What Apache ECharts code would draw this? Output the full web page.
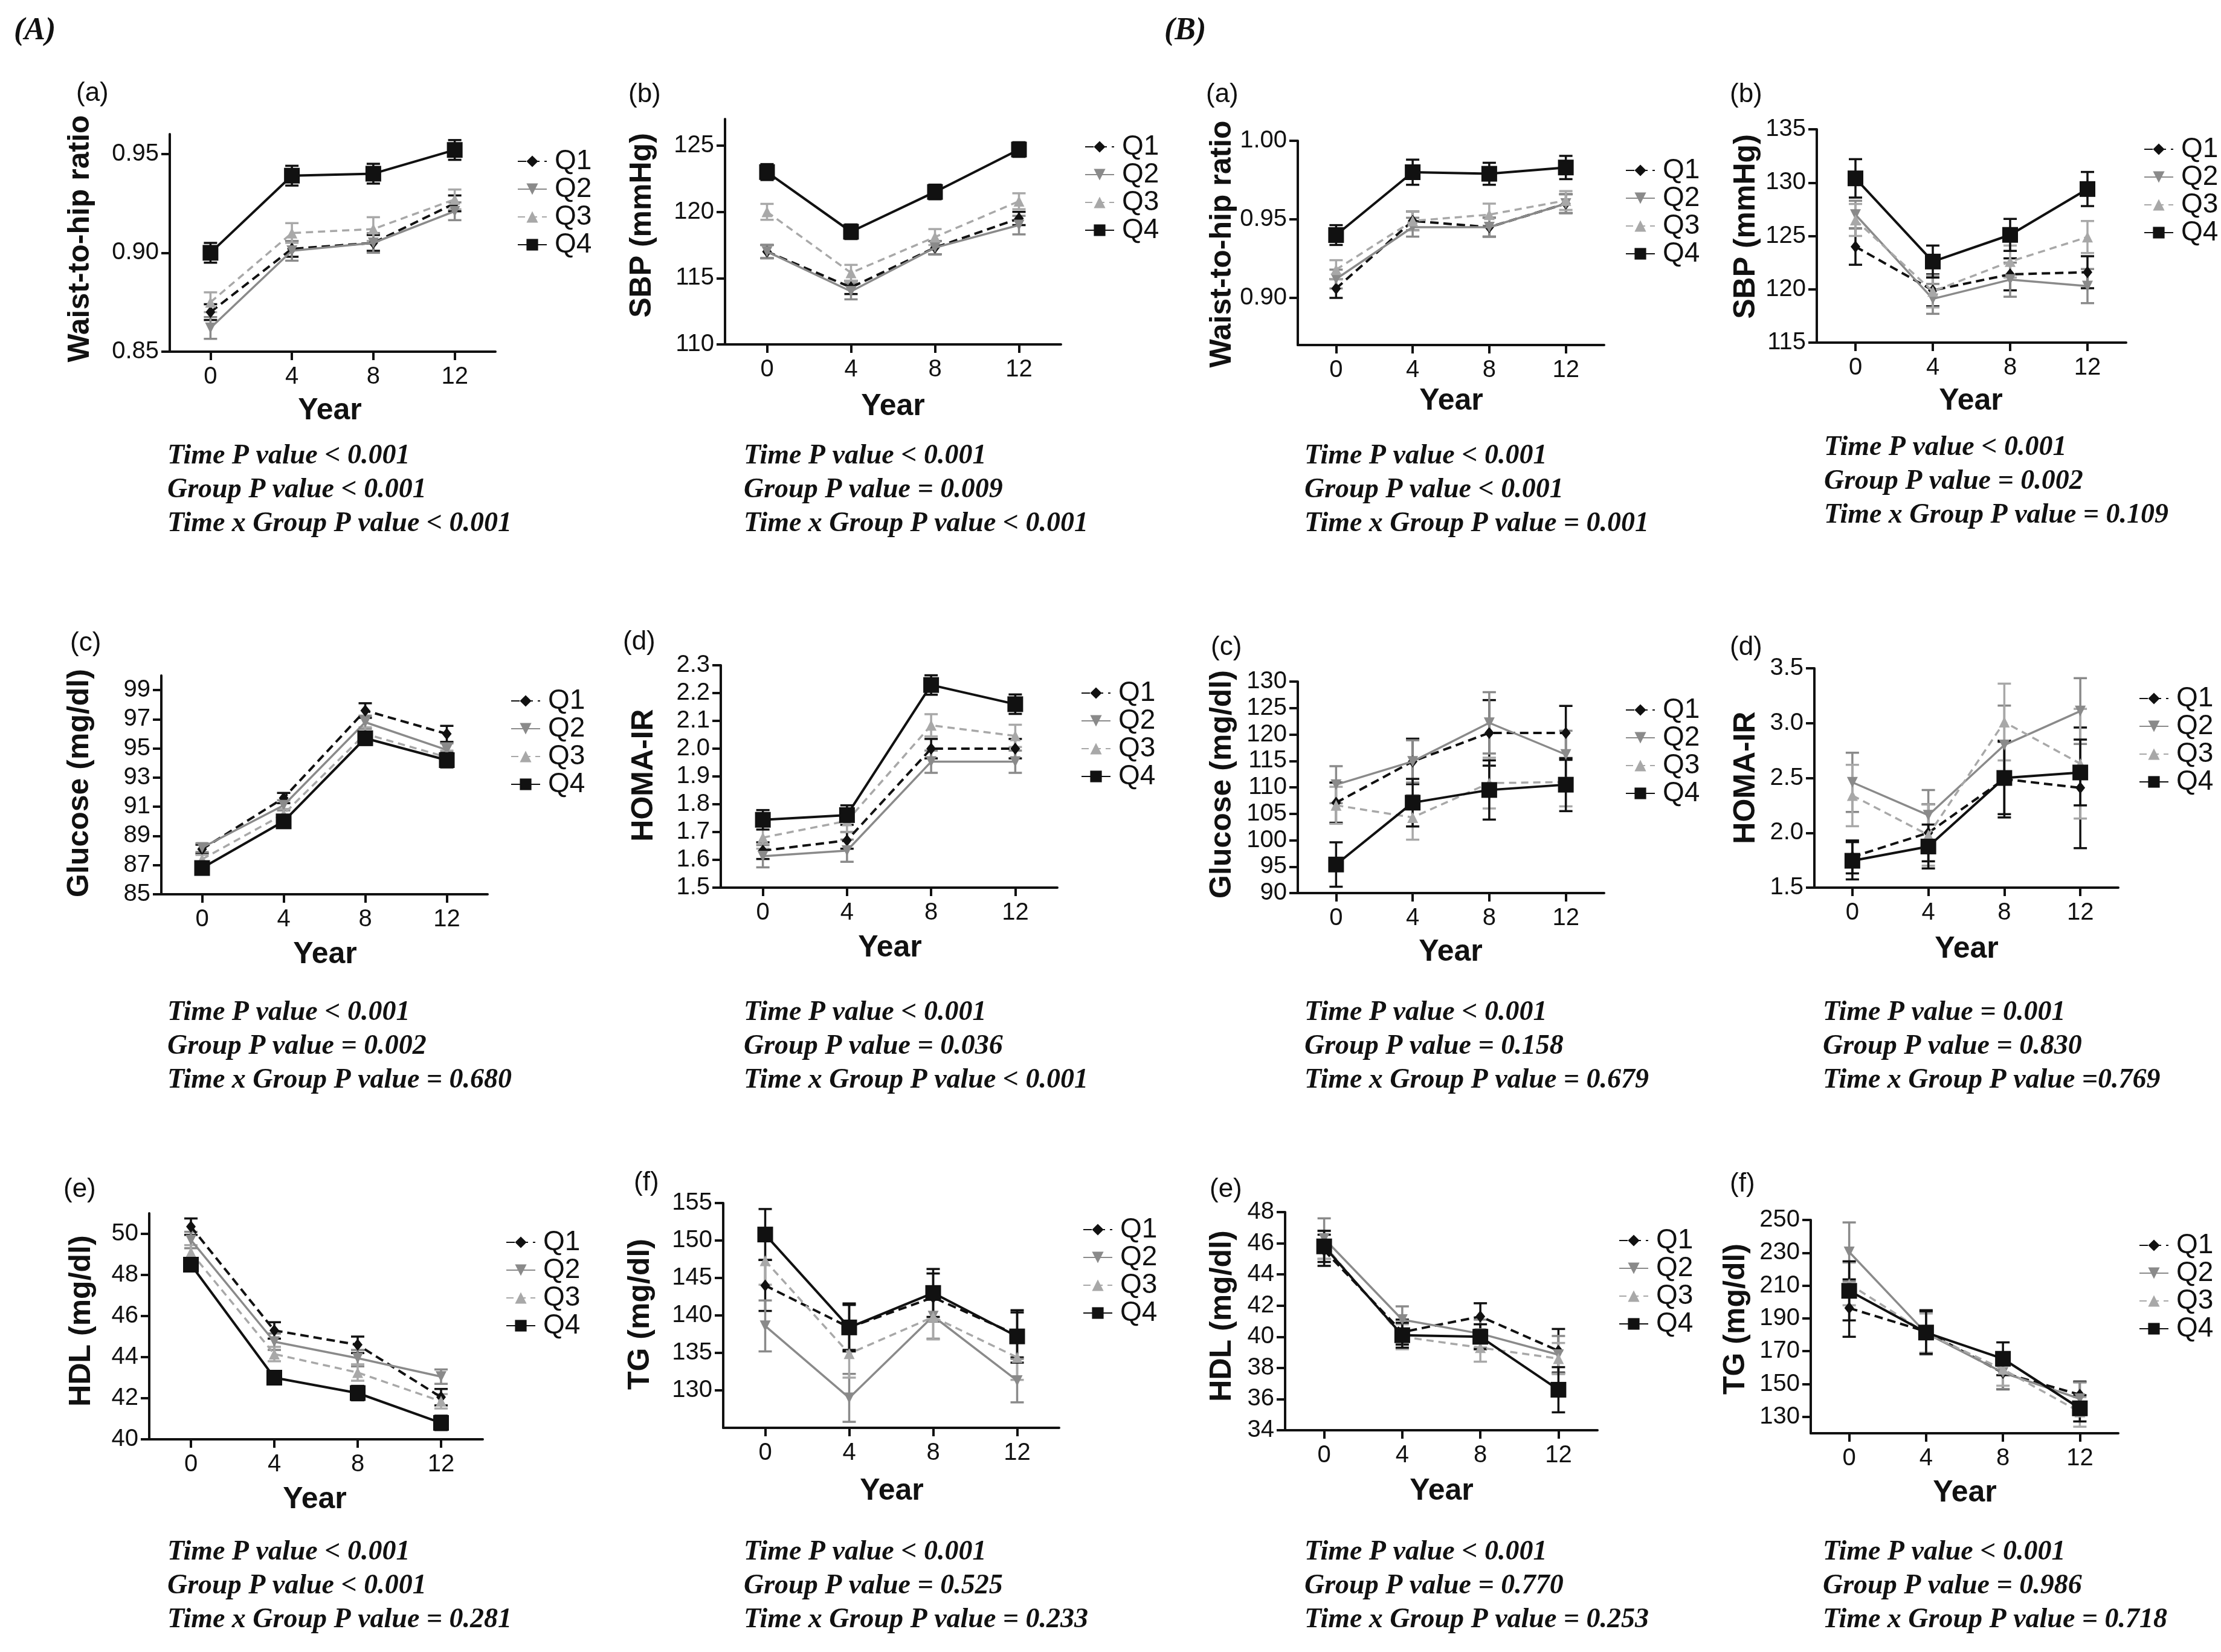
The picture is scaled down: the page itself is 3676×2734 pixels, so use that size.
<!DOCTYPE html>
<html><head><meta charset="utf-8">
<script src="https://cdn.jsdelivr.net/npm/echarts@6/dist/echarts.min.js"></script>
<style>html,body{margin:0;padding:0;background:#fff}#c{width:3676px;height:2734px}</style>
</head><body><div id="c"></div>
<script>
// ---------- shared ----------
const years = [0, 4, 8, 12];
const groups = ['Q1', 'Q2', 'Q3', 'Q4'];
const yearTicks = [0, 4, 8, 12];

// ---------- (A)(a) Waist-to-hip ratio ----------
const A_whr_mean = [[0.870, 0.902, 0.905, 0.925], [0.862, 0.901, 0.905, 0.921], [0.875, 0.910, 0.912, 0.927], [0.900, 0.939, 0.940, 0.952]];
const A_whr_err  = [[0.004, 0.004, 0.004, 0.004], [0.0055, 0.005, 0.005, 0.0045], [0.005, 0.005, 0.006, 0.005], [0.005, 0.005, 0.005, 0.005]];
const A_whr_ticks = [0.85, 0.90, 0.95];
const A_whr_range = [0.85, 0.96];
const A_whr_p = ['Time P value < 0.001', 'Group P value < 0.001', 'Time x Group P value < 0.001'];

// ---------- (A)(b) SBP ----------
const A_sbp_mean = [[117.0, 114.3, 117.3, 119.5], [117.0, 114.0, 117.3, 119.0], [120.0, 115.4, 118.1, 120.8], [123.0, 118.5, 121.5, 124.7]];
const A_sbp_err  = [[0.5, 0.5, 0.5, 0.5], [0.5, 0.6, 0.5, 0.7], [0.6, 0.6, 0.6, 0.6], [0.6, 0.55, 0.55, 0.55]];
const A_sbp_ticks = [110, 115, 120, 125];
const A_sbp_range = [110, 127];
const A_sbp_p = ['Time P value < 0.001', 'Group P value = 0.009', 'Time x Group P value < 0.001'];

// ---------- (B)(a) Waist-to-hip ratio ----------
const B_whr_mean = [[0.906, 0.949, 0.945, 0.960], [0.912, 0.945, 0.945, 0.960], [0.918, 0.949, 0.953, 0.962], [0.940, 0.980, 0.979, 0.983]];
const B_whr_err  = [[0.006, 0.006, 0.006, 0.006], [0.006, 0.006, 0.006, 0.006], [0.006, 0.006, 0.007, 0.006], [0.0063, 0.008, 0.007, 0.0074]];
const B_whr_ticks = [0.90, 0.95, 1.00];
const B_whr_range = [0.87, 1.00];
const B_whr_p = ['Time P value < 0.001', 'Group P value < 0.001', 'Time x Group P value = 0.001'];

// ---------- (B)(b) SBP ----------
const B_sbp_mean = [[124.0, 119.9, 121.4, 121.6], [127.0, 119.1, 120.9, 120.3], [126.5, 119.8, 122.6, 124.9], [130.4, 122.6, 125.1, 129.4]];
const B_sbp_err  = [[1.7, 1.5, 1.5, 1.5], [1.3, 1.4, 1.6, 1.6], [1.5, 1.5, 1.5, 1.5], [1.8, 1.5, 1.5, 1.6]];
const B_sbp_ticks = [115, 120, 125, 130, 135];
const B_sbp_range = [115, 135];
const B_sbp_p = ['Time P value < 0.001', 'Group P value = 0.002', 'Time x Group P value = 0.109'];

// ---------- (A)(c) Glucose ----------
const A_glu_mean = [[88.1, 91.6, 97.6, 96.0], [88.2, 91.1, 96.8, 94.9], [87.4, 90.5, 96.0, 94.4], [86.8, 90.0, 95.7, 94.2]];
const A_glu_err  = [[0.3, 0.35, 0.5, 0.55], [0.3, 0.35, 0.45, 0.45], [0.3, 0.35, 0.45, 0.45], [0.3, 0.35, 0.45, 0.5]];
const A_glu_ticks = [85, 87, 89, 91, 93, 95, 97, 99];
const A_glu_range = [85, 100];
const A_glu_p = ['Time P value < 0.001', 'Group P value = 0.002', 'Time x Group P value = 0.680'];

// ---------- (A)(d) HOMA-IR ----------
const A_homa_mean = [[1.633, 1.670, 2.000, 2.000], [1.613, 1.633, 1.953, 1.953], [1.680, 1.740, 2.084, 2.046], [1.744, 1.761, 2.229, 2.160]];
const A_homa_err  = [[0.03, 0.03, 0.035, 0.035], [0.04, 0.04, 0.04, 0.04], [0.04, 0.04, 0.04, 0.04], [0.035, 0.035, 0.035, 0.035]];
const A_homa_ticks = [1.5, 1.6, 1.7, 1.8, 1.9, 2.0, 2.1, 2.2, 2.3];
const A_homa_range = [1.5, 2.3];
const A_homa_p = ['Time P value < 0.001', 'Group P value = 0.036', 'Time x Group P value < 0.001'];

// ---------- (B)(c) Glucose ----------
const B_glu_mean = [[107.1, 114.9, 120.3, 120.3], [110.5, 114.9, 122.2, 116.2], [106.6, 104.3, 110.8, 111.0], [95.4, 107.1, 109.5, 110.5]];
const B_glu_err  = [[3.8, 4.3, 6.2, 5.1], [3.5, 4.0, 5.8, 4.5], [3.5, 4.2, 4.8, 4.6], [4.2, 4.5, 5.6, 5.0]];
const B_glu_ticks = [90, 95, 100, 105, 110, 115, 120, 125, 130];
const B_glu_range = [90, 130];
const B_glu_p = ['Time P value < 0.001', 'Group P value = 0.158', 'Time x Group P value = 0.679'];

// ---------- (B)(d) HOMA-IR ----------
const B_homa_mean = [[1.78, 2.00, 2.49, 2.41], [2.46, 2.16, 2.80, 3.11], [2.34, 1.98, 3.01, 2.63], [1.745, 1.875, 2.50, 2.55]];
const B_homa_err  = [[0.15, 0.26, 0.35, 0.55], [0.27, 0.23, 0.36, 0.30], [0.28, 0.28, 0.35, 0.50], [0.17, 0.20, 0.33, 0.30]];
const B_homa_ticks = [1.5, 2.0, 2.5, 3.0, 3.5];
const B_homa_range = [1.5, 3.5];
const B_homa_p = ['Time P value = 0.001', 'Group P value = 0.830', 'Time x Group P value =0.769'];

// ---------- (A)(e) HDL ----------
const A_hdl_mean = [[50.35, 45.3, 44.6, 42.05], [49.7, 44.75, 43.95, 43.05], [49.1, 44.15, 43.25, 41.85], [48.5, 43.0, 42.25, 40.8]];
const A_hdl_err  = [[0.4, 0.4, 0.4, 0.4], [0.4, 0.4, 0.4, 0.35], [0.35, 0.35, 0.4, 0.35], [0.3, 0.3, 0.35, 0.35]];
const A_hdl_ticks = [40, 42, 44, 46, 48, 50];
const A_hdl_range = [40, 51];
const A_hdl_p = ['Time P value < 0.001', 'Group P value < 0.001', 'Time x Group P value = 0.281'];

// ---------- (A)(f) TG ----------
const A_tg_mean = [[144.0, 138.4, 142.4, 137.4], [138.6, 129.0, 139.9, 131.3], [147.3, 134.9, 139.8, 134.4], [150.8, 138.4, 143.0, 137.2]];
const A_tg_err  = [[3.4, 3.0, 3.2, 3.0], [3.4, 3.2, 3.0, 2.9], [3.2, 3.2, 3.0, 3.0], [3.4, 3.2, 3.2, 3.5]];
const A_tg_ticks = [130, 135, 140, 145, 150, 155];
const A_tg_range = [125, 155];
const A_tg_p = ['Time P value < 0.001', 'Group P value = 0.525', 'Time x Group P value = 0.233'];

// ---------- (B)(e) HDL ----------
const B_hdl_mean = [[45.55, 40.3, 41.3, 39.1], [46.3, 41.1, 40.2, 38.85], [45.9, 40.0, 39.3, 38.6], [45.8, 40.1, 40.0, 36.6]];
const B_hdl_err  = [[1.0, 0.8, 0.85, 1.4], [1.3, 0.85, 0.9, 1.2], [0.9, 0.8, 0.9, 1.0], [1.0, 0.8, 0.8, 1.45]];
const B_hdl_ticks = [34, 36, 38, 40, 42, 44, 46, 48];
const B_hdl_range = [34, 48];
const B_hdl_p = ['Time P value < 0.001', 'Group P value = 0.770', 'Time x Group P value = 0.253'];

// ---------- (B)(f) TG ----------
const B_tg_mean = [[196.3, 182.0, 156.8, 143.5], [230.5, 181.0, 157.0, 141.0], [211.0, 181.0, 159.0, 133.0], [206.8, 181.4, 165.4, 135.2]];
const B_tg_err  = [[17.5, 13, 10, 8], [18, 13, 10, 10], [13, 12, 10, 9], [18, 13, 10, 8]];
const B_tg_ticks = [130, 150, 170, 190, 210, 230, 250];
const B_tg_range = [120, 250];
const B_tg_p = ['Time P value < 0.001', 'Group P value = 0.986', 'Time x Group P value = 0.718'];

// ---------- layout (pixels) ----------
const SANS = "'Liberation Sans', Arial, Helvetica, sans-serif";
const SERIF = "'Liberation Serif', 'Times New Roman', serif";
const panels = [
  {mean:A_whr_mean, err:A_whr_err, ticks:A_whr_ticks, range:A_whr_range, dec:2, title:'Waist-to-hip ratio', tag:'(a)', p:A_whr_p,
   grid:[281,222,539,360], leg:[856,246], tPos:[133,395], yrPos:[546,680], tagPos:[126,155], pPos:[277,755]},
  {mean:A_sbp_mean, err:A_sbp_err, ticks:A_sbp_ticks, range:A_sbp_range, dec:0, title:'SBP (mmHg)', tag:'(b)', p:A_sbp_p,
   grid:[1200,197,556,373], leg:[1795,222], tPos:[1063,373], yrPos:[1478,673], tagPos:[1040,157], pPos:[1231,755]},
  {mean:B_whr_mean, err:B_whr_err, ticks:B_whr_ticks, range:B_whr_range, dec:2, title:'Waist-to-hip ratio', tag:'(a)', p:B_whr_p,
   grid:[2148,233,507,338], leg:[2690,261], tPos:[2023,404], yrPos:[2402,664], tagPos:[1996,157], pPos:[2159,755]},
  {mean:B_sbp_mean, err:B_sbp_err, ticks:B_sbp_ticks, range:B_sbp_range, dec:0, title:'SBP (mmHg)', tag:'(b)', p:B_sbp_p,
   grid:[3007,214,512,353], leg:[3548,226], tPos:[2890,375], yrPos:[3262,664], tagPos:[2863,157], pPos:[3019,741]},

  {mean:A_glu_mean, err:A_glu_err, ticks:A_glu_ticks, range:A_glu_range, dec:0, title:'Glucose (mg/dl)', tag:'(c)', p:A_glu_p,
   grid:[267,1118,540,362], leg:[845,1139], tPos:[132,1296], yrPos:[538,1580], tagPos:[116,1065], pPos:[277,1676]},
  {mean:A_homa_mean, err:A_homa_err, ticks:A_homa_ticks, range:A_homa_range, dec:1, title:'HOMA-IR', tag:'(d)', p:A_homa_p,
   grid:[1193,1101,557,368], leg:[1789,1126], tPos:[1066,1283], yrPos:[1473,1569], tagPos:[1031,1063], pPos:[1231,1676]},
  {mean:B_glu_mean, err:B_glu_err, ticks:B_glu_ticks, range:B_glu_range, dec:0, title:'Glucose (mg/dl)', tag:'(c)', p:B_glu_p,
   grid:[2148,1128,507,350], leg:[2690,1154], tPos:[2023,1298], yrPos:[2401,1576], tagPos:[2004,1072], pPos:[2159,1676]},
  {mean:B_homa_mean, err:B_homa_err, ticks:B_homa_ticks, range:B_homa_range, dec:1, title:'HOMA-IR', tag:'(d)', p:B_homa_p,
   grid:[3003,1106,503,363], leg:[3540,1135], tPos:[2890,1287], yrPos:[3255,1571], tagPos:[2863,1072], pPos:[3017,1676]},

  {mean:A_hdl_mean, err:A_hdl_err, ticks:A_hdl_ticks, range:A_hdl_range, dec:0, title:'HDL (mg/dl)', tag:'(e)', p:A_hdl_p,
   grid:[247,2008,552,374], leg:[837,2035], tPos:[135,2186], yrPos:[521,2482], tagPos:[105,1969], pPos:[277,2569]},
  {mean:A_tg_mean, err:A_tg_err, ticks:A_tg_ticks, range:A_tg_range, dec:0, title:'TG (mg/dl)', tag:'(f)', p:A_tg_p,
   grid:[1197,1991,556,372], leg:[1792,2014], tPos:[1060,2175], yrPos:[1476,2468], tagPos:[1049,1958], pPos:[1231,2569]},
  {mean:B_hdl_mean, err:B_hdl_err, ticks:B_hdl_ticks, range:B_hdl_range, dec:0, title:'HDL (mg/dl)', tag:'(e)', p:B_hdl_p,
   grid:[2127,2006,517,361], leg:[2679,2032], tPos:[2023,2178], yrPos:[2386,2468], tagPos:[2002,1969], pPos:[2159,2569]},
  {mean:B_tg_mean, err:B_tg_err, ticks:B_tg_ticks, range:B_tg_range, dec:0, title:'TG (mg/dl)', tag:'(f)', p:B_tg_p,
   grid:[2997,2019,509,353], leg:[3540,2040], tPos:[2873,2183], yrPos:[3252,2471], tagPos:[2863,1960], pPos:[3017,2569]}
];

const styles = [
  {color:'#111111', type:[14, 8], width:4,   symbol:'diamond',  size:[16, 20], rotate:0},
  {color:'#8a8a8a', type:'solid', width:3.5, symbol:'triangle', size:18, rotate:180},
  {color:'#a8a8a8', type:[12, 8], width:3.5, symbol:'triangle', size:18, rotate:0},
  {color:'#111111', type:'solid', width:4,   symbol:'rect',     size:26, rotate:0}
];

function errRender(color) {
  return function (params, api) {
    const x = api.value(0), y = api.value(1), e = api.value(2);
    const a = api.coord([x, y + e]), b = api.coord([x, y - e]);
    const hw = 11;
    const st = {stroke: color, lineWidth: 3.5, fill: null};
    return {type: 'group', children: [
      {type: 'line', shape: {x1: a[0], y1: a[1], x2: b[0], y2: b[1]}, style: st},
      {type: 'line', shape: {x1: a[0] - hw, y1: a[1], x2: a[0] + hw, y2: a[1]}, style: st},
      {type: 'line', shape: {x1: b[0] - hw, y1: b[1], x2: b[0] + hw, y2: b[1]}, style: st}
    ]};
  };
}

const axisLineStyle = {color: '#111', width: 4};
const grids = [], xAxes = [], yAxes = [], series = [], legends = [], graphics = [];

panels.forEach((pn, i) => {
  grids.push({left: pn.grid[0], top: pn.grid[1], width: pn.grid[2], height: pn.grid[3], containLabel: false});
  xAxes.push({
    gridIndex: i, type: 'value', min: -2, max: 14,
    axisLine: {show: true, onZero: false, lineStyle: axisLineStyle},
    axisTick: {show: true, length: 14, inside: false, lineStyle: {color: '#111', width: 4}, customValues: yearTicks},
    axisLabel: {customValues: yearTicks, fontSize: 40, color: '#111', margin: 22, fontFamily: SANS},
    splitLine: {show: false}
  });
  yAxes.push({
    gridIndex: i, type: 'value', min: pn.range[0], max: pn.range[1],
    axisLine: {show: true, onZero: false, lineStyle: axisLineStyle},
    axisTick: {show: true, length: 14, lineStyle: {color: '#111', width: 4}, customValues: pn.ticks},
    axisLabel: {customValues: pn.ticks, fontSize: 40, color: '#111', margin: 18, fontFamily: SANS,
      formatter: (v) => Number(v).toFixed(pn.dec)},
    splitLine: {show: false}
  });
  groups.forEach((g, k) => {
    const s = styles[k];
    series.push({
      name: g + ' SEM', type: 'custom', xAxisIndex: i, yAxisIndex: i, z: 2,
      renderItem: errRender(s.color), encode: {x: 0, y: 1},
      data: years.map((yr, j) => [yr, pn.mean[k][j], pn.err[k][j]])
    });
  });
  groups.forEach((g, k) => {
    const s = styles[k];
    series.push({
      name: g, type: 'line', xAxisIndex: i, yAxisIndex: i, z: 3 + k,
      data: years.map((yr, j) => [yr, pn.mean[k][j]]),
      symbol: s.symbol, symbolSize: s.size, symbolRotate: s.rotate, showSymbol: true,
      lineStyle: {color: s.color, width: s.width, type: s.type},
      itemStyle: {color: s.color, borderWidth: 0},
      emphasis: {disabled: true}
    });
  });
  legends.push({
    orient: 'vertical', left: pn.leg[0], top: pn.leg[1] - 2, padding: 0, itemGap: 0,
    itemWidth: 48, itemHeight: 24, selectedMode: false, data: groups,
    textStyle: {fontSize: 46, lineHeight: 41, color: '#111', fontFamily: SANS, padding: [0, 0, 0, 8]}
  });
  graphics.push({type: 'text', x: pn.tPos[0], y: pn.tPos[1], rotation: Math.PI / 2,
    style: {text: pn.title, fontSize: 50, fontWeight: 'bold', fontFamily: SANS, fill: '#111',
      align: 'center', verticalAlign: 'middle', textAlign: 'center', textVerticalAlign: 'middle'}});
  graphics.push({type: 'text', x: pn.yrPos[0], y: pn.yrPos[1],
    style: {text: 'Year', fontSize: 50, fontWeight: 'bold', fontFamily: SANS, fill: '#111',
      align: 'center', verticalAlign: 'middle', textAlign: 'center', textVerticalAlign: 'middle'}});
  graphics.push({type: 'text', x: pn.tagPos[0], y: pn.tagPos[1],
    style: {text: pn.tag, fontSize: 44, fontFamily: SANS, fill: '#111',
      align: 'left', verticalAlign: 'middle', textAlign: 'left', textVerticalAlign: 'middle'}});
  pn.p.forEach((t, j) => {
    graphics.push({type: 'text', x: pn.pPos[0], y: pn.pPos[1] + j * 56,
      style: {text: t, fontSize: 46, fontWeight: 'bold', fontStyle: 'italic', fontFamily: SERIF, fill: '#111',
        align: 'left', verticalAlign: 'middle', textAlign: 'left', textVerticalAlign: 'middle'}});
  });
});

graphics.push({type: 'text', x: 23, y: 52,
  style: {text: '(A)', fontSize: 52, fontWeight: 'bold', fontStyle: 'italic', fontFamily: SERIF, fill: '#111',
    align: 'left', verticalAlign: 'middle', textAlign: 'left', textVerticalAlign: 'middle'}});
graphics.push({type: 'text', x: 1927, y: 52,
  style: {text: '(B)', fontSize: 52, fontWeight: 'bold', fontStyle: 'italic', fontFamily: SERIF, fill: '#111',
    align: 'left', verticalAlign: 'middle', textAlign: 'left', textVerticalAlign: 'middle'}});

const chart = echarts.init(document.getElementById('c'), null, {renderer: 'canvas', width: 3676, height: 2734});
chart.setOption({
  backgroundColor: '#ffffff',
  animation: false,
  grid: grids, xAxis: xAxes, yAxis: yAxes, series: series, legend: legends,
  graphic: {elements: graphics}
});
</script></body></html>
